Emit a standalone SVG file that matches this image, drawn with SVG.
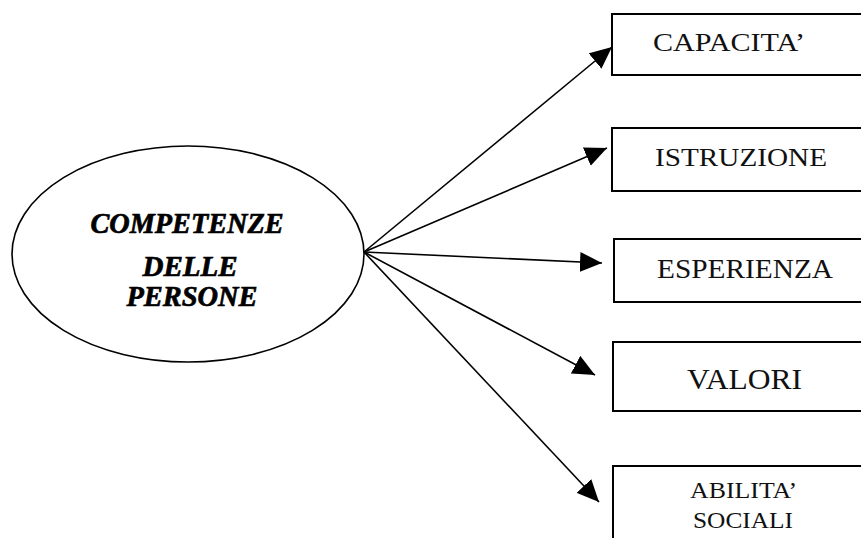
<svg xmlns="http://www.w3.org/2000/svg" width="861" height="538" viewBox="0 0 861 538">
  <style>
    .box { fill: #ffffff; stroke: #000000; stroke-width: 2; }
    .hub { fill: #ffffff; stroke: #000000; stroke-width: 1.6; }
    .lbl { font-family: "Liberation Serif", "Times New Roman", serif; fill: #111111; text-anchor: middle; }
    .hubtxt { font-family: "Liberation Serif", "Times New Roman", serif; font-weight: bold; font-style: italic; fill: #000000; stroke: #000000; stroke-width: 0.7; text-anchor: middle; font-size: 29px; }
    .edge { stroke: #000000; stroke-width: 1.6; fill: none; marker-end: url(#head); }
  </style>
  <defs>
    <marker id="head" markerUnits="userSpaceOnUse" markerWidth="22" markerHeight="20" refX="22" refY="10" orient="auto">
      <path d="M0,0 L22,10 L0,20 z" fill="#000000"/>
    </marker>
  </defs>
  <rect width="861" height="538" fill="#ffffff"/>

  <g id="connectors">
    <line class="edge" x1="364" y1="252" x2="612" y2="47"/>
    <line class="edge" x1="364" y1="252" x2="607" y2="148"/>
    <line class="edge" x1="364" y1="252" x2="602" y2="263"/>
    <line class="edge" x1="364" y1="252" x2="595" y2="375"/>
    <line class="edge" x1="364" y1="252" x2="599" y2="502"/>
  </g>

  <g id="competenze">
    <ellipse class="hub" cx="188" cy="254" rx="176" ry="108"/>
    <text class="hubtxt" x="187" y="233" textLength="193" lengthAdjust="spacingAndGlyphs">COMPETENZE</text>
    <text class="hubtxt" x="190" y="276" textLength="95" lengthAdjust="spacingAndGlyphs">DELLE</text>
    <text class="hubtxt" x="192" y="306" textLength="131" lengthAdjust="spacingAndGlyphs">PERSONE</text>
  </g>

  <g id="capacita">
    <rect class="box" x="612" y="14" width="262" height="61"/>
    <text class="lbl" x="729" y="51" font-size="26" textLength="152" lengthAdjust="spacingAndGlyphs">CAPACITA’</text>
  </g>

  <g id="istruzione">
    <rect class="box" x="612" y="128" width="262" height="63"/>
    <text class="lbl" x="741" y="166" font-size="26" textLength="172" lengthAdjust="spacingAndGlyphs">ISTRUZIONE</text>
  </g>

  <g id="esperienza">
    <rect class="box" x="614" y="239" width="260" height="63"/>
    <text class="lbl" x="745" y="278" font-size="27" textLength="176" lengthAdjust="spacingAndGlyphs">ESPERIENZA</text>
  </g>

  <g id="valori">
    <rect class="box" x="613" y="342" width="261" height="69"/>
    <text class="lbl" x="744.5" y="389" font-size="30" textLength="115" lengthAdjust="spacingAndGlyphs">VALORI</text>
  </g>

  <g id="abilita-sociali">
    <rect class="box" x="613" y="466" width="261" height="90"/>
    <text class="lbl" x="743.5" y="498" font-size="24" textLength="107" lengthAdjust="spacingAndGlyphs">ABILITA’</text>
    <text class="lbl" x="743" y="528" font-size="24" textLength="100" lengthAdjust="spacingAndGlyphs">SOCIALI</text>
  </g>
</svg>
